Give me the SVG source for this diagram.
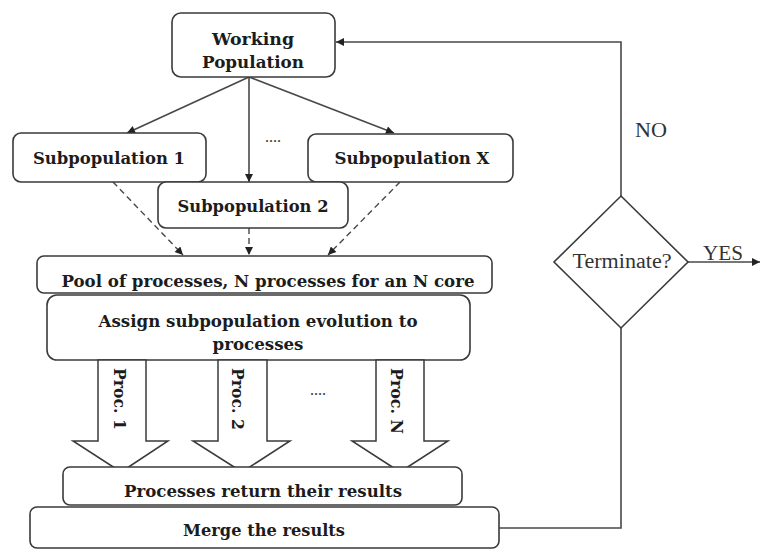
<svg xmlns="http://www.w3.org/2000/svg" width="761" height="550" viewBox="0 0 761 550">
  <style>
    .box { fill: #ffffff; stroke: #3a3a3a; stroke-width: 1.6; }
    .blk { fill: #ffffff; stroke: #3a3a3a; stroke-width: 1.5; stroke-linejoin: miter; }
    .ln { fill: none; stroke: #484848; stroke-width: 1.6; }
    .dash { fill: none; stroke: #484848; stroke-width: 1.4; stroke-dasharray: 6 4; }
    .lbl { font-family: "DejaVu Serif", "Liberation Serif", serif; font-weight: bold; font-size: 17px; fill: #1c1c1c; text-anchor: middle; }
    .plain { font-family: "Liberation Serif", "Times New Roman", serif; font-size: 20px; fill: #333333; text-anchor: middle; }
    .dots { font-family: "Liberation Serif", serif; font-size: 16px; fill: #333333; text-anchor: middle; }
  </style>
  <defs>
    <marker id="arrow" viewBox="0 0 10 10" refX="10" refY="5" markerWidth="9" markerHeight="8" markerUnits="userSpaceOnUse" orient="auto">
      <path d="M0,0 L10,5 L0,10 z" fill="#222222"/>
    </marker>
  </defs>

  <rect width="761" height="550" fill="#ffffff"/>

  <!-- connectors -->
  <g id="connectors">
    <line class="ln" x1="249" y1="77" x2="127" y2="133" marker-end="url(#arrow)"/>
    <line class="ln" x1="249" y1="77" x2="249" y2="182" marker-end="url(#arrow)"/>
    <line class="ln" x1="249" y1="77" x2="394" y2="133" marker-end="url(#arrow)"/>
    <line class="dash" x1="113" y1="182" x2="183" y2="255" marker-end="url(#arrow)"/>
    <line class="dash" x1="249" y1="228" x2="249" y2="255" marker-end="url(#arrow)"/>
    <line class="dash" x1="400" y1="182" x2="328" y2="255" marker-end="url(#arrow)"/>
    <polyline class="ln" points="499,528 621,528 621,328"/>
    <polyline class="ln" points="621,196 621,42 336,42" marker-end="url(#arrow)"/>
    <line class="ln" x1="688" y1="262" x2="760" y2="262" marker-end="url(#arrow)"/>
    <text class="plain" x="651" y="137" textLength="32" lengthAdjust="spacingAndGlyphs">NO</text>
    <text class="plain" x="723" y="260" textLength="40" lengthAdjust="spacingAndGlyphs">YES</text>
    <text class="dots" x="273" y="142">....</text>
    <text class="dots" x="318" y="395">....</text>
  </g>

  <g id="working-population">
    <rect class="box" x="172" y="13" width="163" height="64" rx="9"/>
    <text class="lbl" x="253" y="45" textLength="82" lengthAdjust="spacingAndGlyphs">Working</text>
    <text class="lbl" x="253" y="68" textLength="102" lengthAdjust="spacingAndGlyphs">Population</text>
  </g>

  <g id="subpopulation-1">
    <rect class="box" x="13" y="133" width="193" height="49" rx="8"/>
    <text class="lbl" x="109" y="164" textLength="152" lengthAdjust="spacingAndGlyphs">Subpopulation 1</text>
  </g>

  <g id="subpopulation-x">
    <rect class="box" x="308" y="134" width="205" height="48" rx="8"/>
    <text class="lbl" x="412" y="164" textLength="155" lengthAdjust="spacingAndGlyphs">Subpopulation X</text>
  </g>

  <g id="subpopulation-2">
    <rect class="box" x="158" y="182" width="190" height="46" rx="8"/>
    <text class="lbl" x="253" y="212" textLength="151" lengthAdjust="spacingAndGlyphs">Subpopulation 2</text>
  </g>

  <g id="pool">
    <rect class="box" x="37" y="256" width="455" height="37" rx="7"/>
    <text class="lbl" x="268" y="287" textLength="413" lengthAdjust="spacingAndGlyphs">Pool of processes, N processes for an N core</text>
  </g>

  <g id="assign">
    <rect class="box" x="47" y="295" width="423" height="65" rx="10"/>
    <text class="lbl" x="258" y="327" textLength="319" lengthAdjust="spacingAndGlyphs">Assign subpopulation evolution to</text>
    <text class="lbl" x="258" y="350" textLength="91" lengthAdjust="spacingAndGlyphs">processes</text>
  </g>

  <!-- process block arrows -->
  <g id="proc-1">
    <polygon class="blk" points="98,360 146,360 146,441 168,441 121,472 73,441 98,441"/>
    <text class="lbl" transform="translate(114,399) rotate(90)" textLength="62" lengthAdjust="spacingAndGlyphs">Proc. 1</text>
  </g>
  <g id="proc-2">
    <polygon class="blk" points="218,360 267,360 267,441 290,441 242,472 193,441 218,441"/>
    <text class="lbl" transform="translate(232,399) rotate(90)" textLength="62" lengthAdjust="spacingAndGlyphs">Proc. 2</text>
  </g>
  <g id="proc-n">
    <polygon class="blk" points="376,360 424,360 424,441 448,441 400,472 352,441 376,441"/>
    <text class="lbl" transform="translate(391,401) rotate(90)" textLength="66" lengthAdjust="spacingAndGlyphs">Proc. N</text>
  </g>

  <g id="return-results">
    <rect class="box" x="63" y="467" width="399" height="38" rx="7"/>
    <text class="lbl" x="263" y="497" textLength="278" lengthAdjust="spacingAndGlyphs">Processes return their results</text>
  </g>

  <g id="merge">
    <rect class="box" x="30" y="507" width="469" height="41" rx="7"/>
    <text class="lbl" x="264" y="536" textLength="162" lengthAdjust="spacingAndGlyphs">Merge the results</text>
  </g>

  <g id="terminate">
    <polygon class="box" points="621,196 688,262 621,328 554,262"/>
    <text class="plain" x="622" y="268" textLength="99" lengthAdjust="spacingAndGlyphs">Terminate?</text>
  </g>
</svg>
